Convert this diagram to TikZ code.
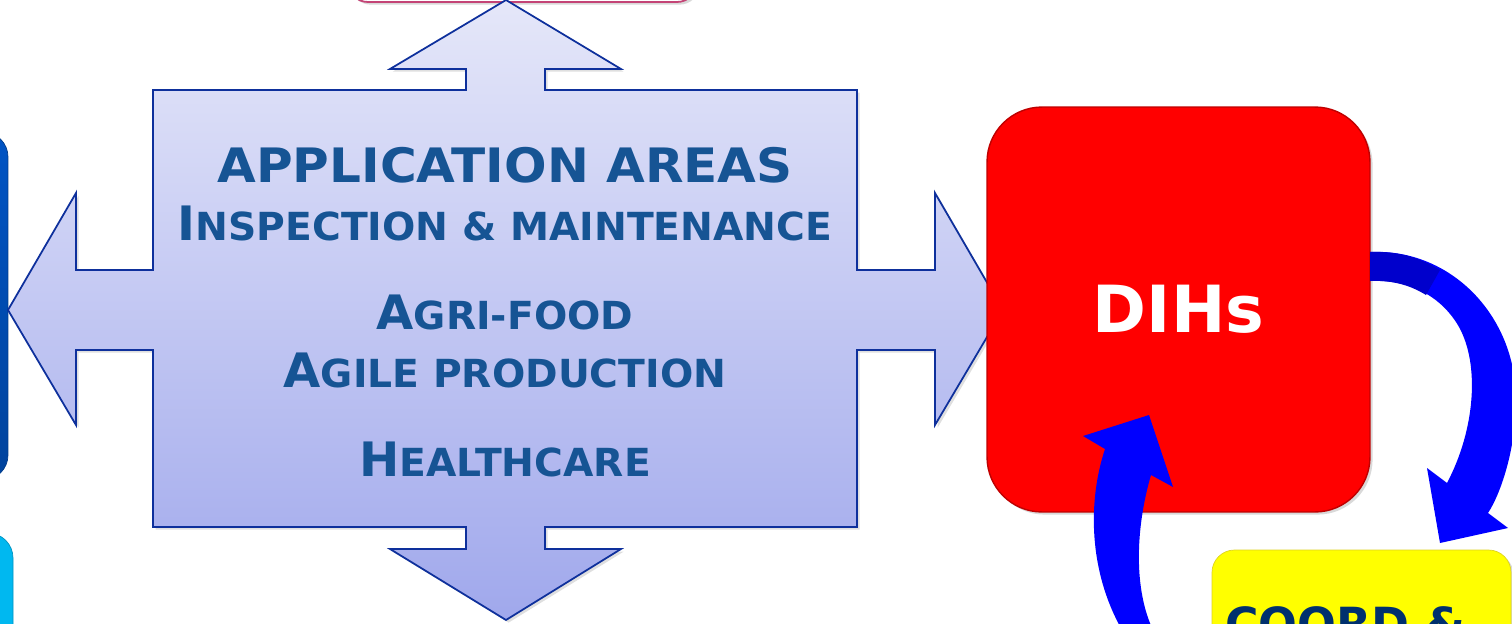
\documentclass[tikz,border=0pt]{standalone}
\usepackage{fontspec}
\setmainfont{DejaVu Sans}
\usetikzlibrary{shadows}
\definecolor{crossline}{RGB}{14,48,156}
\definecolor{crosstop}{RGB}{229,231,249}
\definecolor{crossbot}{RGB}{160,168,236}
\definecolor{areatext}{RGB}{22,84,148}
\definecolor{hubred}{RGB}{255,0,0}
\definecolor{loopblue}{RGB}{0,0,255}
\definecolor{coordyellow}{RGB}{255,255,0}
\definecolor{coordtext}{RGB}{0,48,110}
\definecolor{edgeblue}{RGB}{0,84,196}
\definecolor{edgecyan}{RGB}{0,184,240}
\definecolor{topbox}{RGB}{196,68,118}
\newcommand{\bigsc}{\fontsize{27}{32}\selectfont}
\newcommand{\smallsc}{\fontsize{22}{26}\selectfont}
\tikzset{
	areatxt/.style={anchor=base, text=areatext, font=\bfseries, inner sep=0pt, xscale=1.015},
	hubbox/.style={fill=hubred, draw=red!75!black, line width=0.8pt, rounded corners=1.1cm,
		minimum width=7.66cm, minimum height=8.1cm, text=white,
		font=\fontsize{37}{42}\selectfont\bfseries,
		drop shadow={shadow xshift=1.5pt, shadow yshift=-1.5pt, opacity=0.3}},
	loop/.style={fill=loopblue},
}

\begin{document}
\begin{tikzpicture}[x=0.02cm, y=-0.02cm]
		%%%%% START %%%%%
		
		\useasboundingbox (0, 0) rectangle (1512, 623);
		\clip (0, 0) rectangle (1512, 623);
		
		% boxes cut by the frame
		\draw[fill=white, draw=topbox, line width=1pt, rounded corners=0.4cm,
			drop shadow={shadow xshift=1.5pt, shadow yshift=-1.5pt, opacity=0.3}] (348, -80) rectangle (697, 2);
		\draw[top color=edgeblue, bottom color=edgeblue!80!black, draw=edgeblue!70!black, rounded corners=0.5cm] (-80, 132) rectangle (8, 480);
		\draw[fill=edgecyan, draw=edgecyan!80!black, rounded corners=0.5cm] (-80, 533) rectangle (13, 720);
		
		% application areas cross
		\path[draw=crossline, line width=1pt, top color=crosstop, bottom color=crossbot,
			drop shadow={shadow xshift=1.5pt, shadow yshift=-1.5pt, opacity=0.25}]
			(506, 0) -- (621, 69) -- (545, 69) -- (545, 90) -- (857, 90) -- (857, 270)
			-- (935, 270) -- (935, 193) -- (1003, 310) -- (935, 425) -- (935, 350) -- (857, 350)
			-- (857, 527) -- (545, 527) -- (545, 549) -- (621, 549) -- (506, 620) -- (390, 549)
			-- (466, 549) -- (466, 527) -- (153, 527) -- (153, 350) -- (76, 350) -- (76, 425)
			-- (8, 310) -- (76, 193) -- (76, 270) -- (153, 270) -- (153, 90) -- (466, 90)
			-- (466, 69) -- (390, 69) -- cycle;
		
		\node[areatxt, xscale=1.04] (apptitle) at (505, 182) {\bigsc APPLICATION AREAS};
		\node[areatxt] (inspect) at (505, 240) {{\bigsc I}{\smallsc NSPECTION \& MAINTENANCE}};
		\node[areatxt] (agri) at (505, 329) {{\bigsc A}{\smallsc GRI-FOOD}};
		\node[areatxt] (agile) at (505, 387) {{\bigsc A}{\smallsc GILE PRODUCTION}};
		\node[areatxt] (health) at (505, 476) {{\bigsc H}{\smallsc EALTHCARE}};
		
		% hubs
		\node[hubbox] (dihs) at (1178.5, 309.5) {DIHs};
		
		\draw[fill=coordyellow, draw=yellow!85!black, rounded corners=0.45cm,
			drop shadow={shadow xshift=1.5pt, shadow yshift=-1.5pt, opacity=0.3}] (1212, 550) rectangle (1511, 760);
		\node[anchor=base west, inner sep=0pt, text=coordtext, font=\fontsize{26}{30}\selectfont\bfseries] (coord) at (1225, 640) {COORD \&};
		
		% loop arrows
		\fill[loop] (1370, 252) .. controls (1450, 248) and (1516, 315) .. (1516, 400)
			.. controls (1516, 450) and (1500, 495) .. (1488, 513)
			-- (1508, 528) -- (1440, 543) -- (1427, 468) -- (1447, 483)
			.. controls (1475, 430) and (1480, 365) .. (1459, 327)
			.. controls (1442, 297) and (1410, 279) .. (1370, 281) -- cycle;
		\fill[blue!80!black] (1370, 252) .. controls (1400, 251) and (1420, 258) .. (1440, 270)
			-- (1426, 295) .. controls (1410, 285) and (1392, 280) .. (1370, 281) -- cycle;
		\fill[loop] (1122, 630) .. controls (1088, 570) and (1088, 500) .. (1105, 449)
			-- (1083, 436) -- (1149, 415) -- (1173, 487) -- (1151, 475)
			.. controls (1135, 530) and (1134, 590) .. (1153, 630) -- cycle;
		
		%%%%% END %%%%%
	\end{tikzpicture}
\end{document}
